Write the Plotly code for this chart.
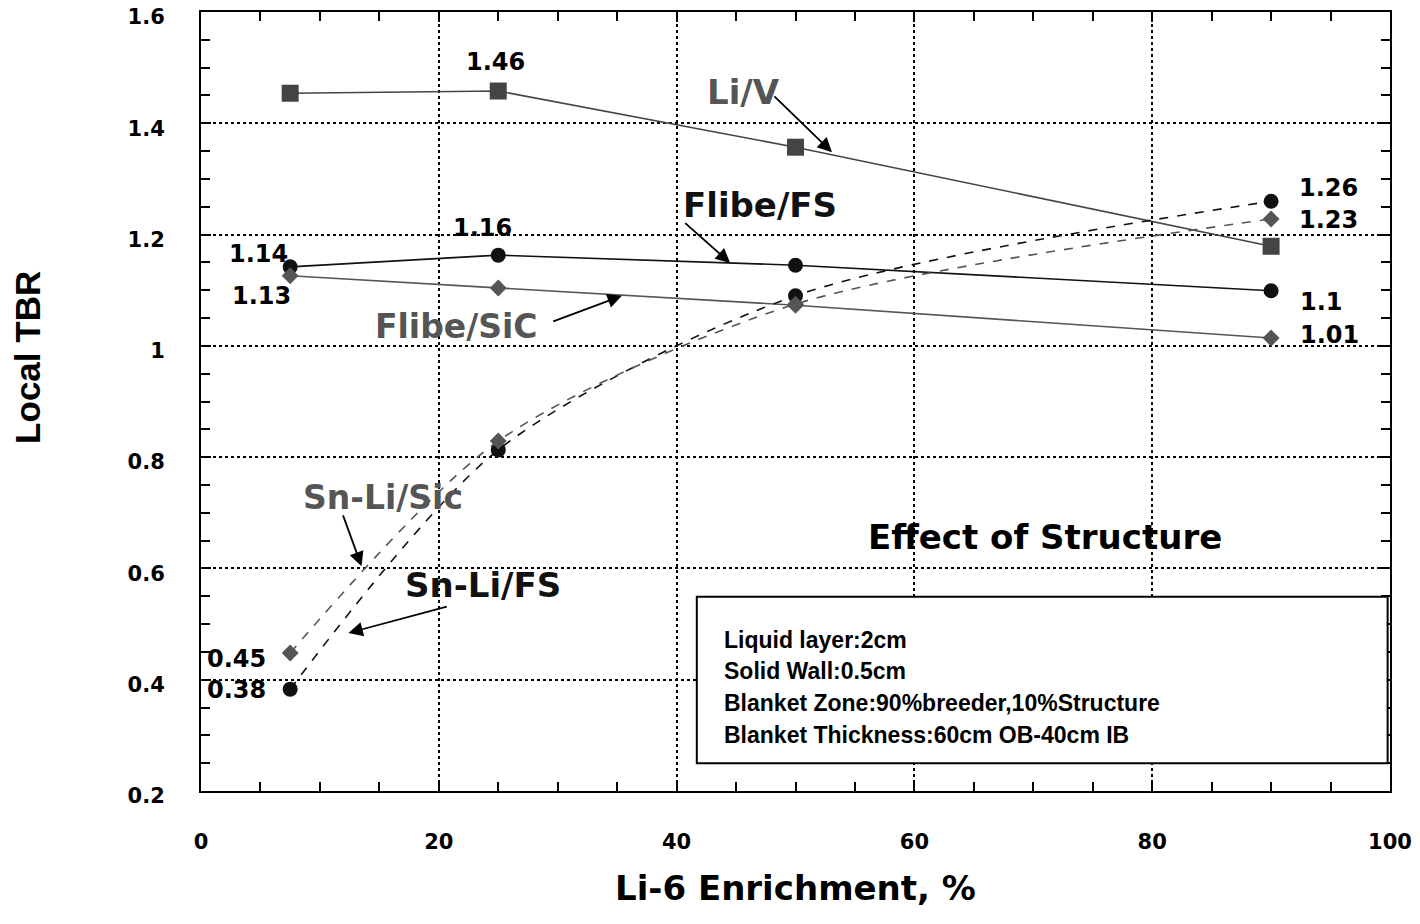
import plotly.graph_objects as go

# ---- data ----
enrichment = [7.5, 25, 50, 90]
li_v = [1.454, 1.458, 1.357, 1.179]
flibe_fs = [1.142, 1.163, 1.145, 1.099]
flibe_sic = [1.126, 1.104, 1.073, 1.014]
snli_fs = [0.383, 0.813, 1.090, 1.260]
snli_sic = [0.448, 0.829, 1.075, 1.228]

x_ticks = [0, 20, 40, 60, 80, 100]
y_ticks = [0.2, 0.4, 0.6, 0.8, 1.0, 1.2, 1.4, 1.6]
y_tick_text = ["0.2", "0.4", "0.6", "0.8", "1", "1.2", "1.4", "1.6"]

WIDE = "DejaVu Sans, Verdana, sans-serif"
ARIAL = "Liberation Sans, Arial, sans-serif"
DARK = "#444444"
GRAY = "#555555"
BLACK = "#111111"

fig = go.Figure()

fig.add_trace(go.Scatter(x=enrichment, y=li_v, mode="lines+markers",
                         line=dict(color=DARK, width=1.6),
                         marker=dict(symbol="square", size=17, color=DARK)))
fig.add_trace(go.Scatter(x=enrichment, y=flibe_fs, mode="lines+markers",
                         line=dict(color=BLACK, width=1.6),
                         marker=dict(symbol="circle", size=15, color=BLACK)))
fig.add_trace(go.Scatter(x=enrichment, y=flibe_sic, mode="lines+markers",
                         line=dict(color=GRAY, width=1.6),
                         marker=dict(symbol="diamond", size=13, color=GRAY)))
fig.add_trace(go.Scatter(x=enrichment, y=snli_fs, mode="lines+markers",
                         line=dict(color=BLACK, width=1.6, dash="dash", shape="spline", smoothing=0.8),
                         marker=dict(symbol="circle", size=15, color=BLACK)))
fig.add_trace(go.Scatter(x=enrichment, y=snli_sic, mode="lines+markers",
                         line=dict(color=GRAY, width=1.6, dash="dash", shape="spline", smoothing=0.8),
                         marker=dict(symbol="diamond", size=13, color=GRAY)))

annotations = []

def txt(x, y, text, size=24, color="black", xanchor="center", xref="x", yref="y",
        textangle=0, family=WIDE):
    annotations.append(dict(x=x, y=y, xref=xref, yref=yref, text=text, showarrow=False,
                            xanchor=xanchor, yanchor="middle", textangle=textangle,
                            font=dict(family=family, size=size, color=color, weight="bold")))

def arrow(x0, y0, x1, y1):
    annotations.append(dict(x=x1, y=y1, ax=x0, ay=y0, xref="x", yref="y", axref="x", ayref="y",
                            text="", showarrow=True, arrowhead=2, arrowsize=1.6,
                            arrowwidth=1.8, arrowcolor="black"))

# value labels
txt(24.8, 1.510, "1.46")
txt(23.7, 1.212, "1.16")
txt(4.8, 1.165, "1.14")
txt(5.1, 1.090, "1.13")
txt(94.8, 1.284, "1.26")
txt(94.8, 1.226, "1.23")
txt(94.2, 1.079, "1.1")
txt(94.9, 1.020, "1.01")
txt(3.0, 0.437, "0.45")
txt(3.0, 0.381, "0.38")

# series labels
txt(45.6, 1.456, "Li/V", size=34, color=GRAY)
txt(47.0, 1.253, "Flibe/FS", size=34, color=BLACK)
txt(21.5, 1.034, "Flibe/SiC", size=33, color=GRAY)
txt(15.3, 0.727, "Sn-Li/Sic", size=33, color=GRAY)
txt(23.7, 0.570, "Sn-Li/FS", size=34, color=BLACK)
txt(71.0, 0.656, "Effect of Structure", size=34, color="black")

arrow(48.1, 1.451, 53.07, 1.348)
arrow(40.6, 1.223, 44.5, 1.149)
arrow(29.5, 1.043, 35.4, 1.090)
arrow(11.9, 0.698, 13.5, 0.604)
arrow(20.8, 0.532, 12.4, 0.484)

# box text
box_lines = ["Liquid layer:2cm", "Solid Wall:0.5cm",
             "Blanket Zone:90%breeder,10%Structure",
             "Blanket Thickness:60cm OB-40cm IB"]
box_y = [0.4713, 0.4156, 0.3581, 0.3006]
for line, yy in zip(box_lines, box_y):
    txt(43.8, yy, line, size=23, xanchor="left", family=ARIAL)

# axis titles
txt(0.4996, -0.1245, "Li-6 Enrichment, %", size=34, xref="paper", yref="paper")
txt(-0.1455, 0.556, "Local TBR", size=35, xref="paper", yref="paper", textangle=-90, family=ARIAL)

fig.update_layout(
    width=1420, height=924,
    margin=dict(l=201, r=30, t=12, b=133),
    paper_bgcolor="white", plot_bgcolor="white",
    showlegend=False,
    annotations=annotations,
    shapes=[dict(type="rect", xref="x", yref="y", x0=41.7, x1=99.8, y0=0.250, y1=0.549,
                 fillcolor="white", line=dict(color="black", width=2), layer="above")],
    font=dict(family=WIDE, color="black"),
)

fig.update_xaxes(range=[0, 100], tickvals=x_ticks, showline=True, linecolor="black", linewidth=2,
                 mirror="ticks", ticks="inside", ticklen=10, tickcolor="black", tickwidth=1.5,
                 showgrid=True, gridcolor="black", griddash="dot", gridwidth=1.5,
                 zeroline=False, ticklabelstandoff=31, automargin=False, ticklabeloverflow="allow",
                 tickfont=dict(family=WIDE, size=21, color="black", weight="bold"),
                 minor=dict(dtick=5, ticks="inside", ticklen=9, tickcolor="black", tickwidth=1.5, showgrid=False))
fig.update_yaxes(range=[0.2, 1.6], tickvals=y_ticks, ticktext=y_tick_text, showline=True,
                 linecolor="black", linewidth=2,
                 mirror="ticks", ticks="inside", ticklen=10, tickcolor="black", tickwidth=1.5,
                 showgrid=True, gridcolor="black", griddash="dot", gridwidth=1.5,
                 zeroline=False, ticklabelstandoff=30, ticklabelshift=5, automargin=False,
                 ticklabeloverflow="allow",
                 tickfont=dict(family=WIDE, size=21, color="black", weight="bold"),
                 minor=dict(dtick=0.05, tick0=0.2, ticks="inside", ticklen=9, tickcolor="black", tickwidth=1.5, showgrid=False))

fig.write_html("out.html", config={"displayModeBar": False},
               post_script="document.body.style.margin='0';")
